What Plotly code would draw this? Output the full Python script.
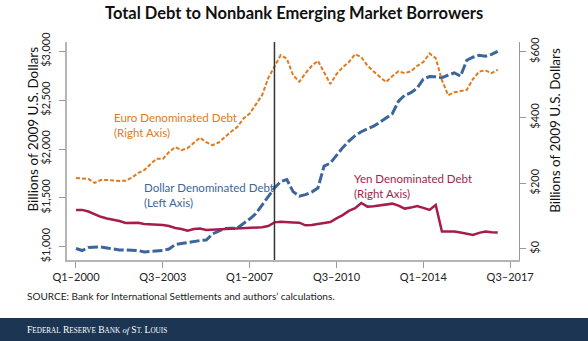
import plotly.graph_objects as go

# Quarterly data, Q1-2000 .. Q1-2017 (69 quarters)
start_year = 2000
dollar = [982, 961, 992, 997, 997, 987, 976, 966, 966, 966, 961, 946, 951, 951, 961, 976,
          1022, 1033, 1043, 1058, 1063, 1068, 1130, 1160, 1186, 1188, 1191, 1237, 1283, 1339, 1426, 1518,
          1600, 1666, 1687, 1564, 1518, 1533, 1559, 1600, 1825, 1855, 1937, 2014, 2080, 2136, 2177, 2208,
          2234, 2274, 2315, 2361, 2489, 2550, 2576, 2622, 2714, 2741, 2739, 2729, 2755, 2780, 2745, 2908,
          2939, 2959, 2949, 2969, 3000]
euro = [216, 214, 213, 201, 210, 210, 208, 207, 208, 217, 231, 240, 258, 275, 274, 295,
        310, 301, 307, 322, 339, 325, 316, 324, 341, 357, 371, 397, 412, 441, 468, 520,
        557, 590, 579, 529, 509, 535, 557, 573, 538, 502, 532, 553, 569, 593, 584, 558,
        540, 523, 508, 526, 541, 535, 541, 557, 569, 595, 581, 514, 468, 477, 480, 484,
        517, 540, 544, 535, 546]
yen = [119, 119, 114, 106, 98, 93, 90, 85, 79, 79, 80, 76, 75, 75, 73, 70,
       64, 61, 56, 61, 62, 58, 59, 59, 60, 61, 62, 63, 64, 65, 66, 70,
       81, 83, 81, 81, 80, 72, 73, 76, 79, 82, 93, 103, 116, 124, 140, 129,
       130, 132, 135, 138, 132, 123, 126, 131, 125, 119, 134, 53, 53, 53, 50, 47,
       43, 49, 53, 51, 50]

x_tick_vals = [2000, 2003.5, 2007, 2010.5, 2014, 2017.5]
x_tick_text = ["Q1\u20132000", "Q3\u20132003", "Q1\u20132007", "Q3\u20132010", "Q1\u20132014", "Q3\u20132017"]
left_ticks = [1000, 1500, 2000, 2500, 3000]
left_tick_text = ["$1,000", "$1,500", "$2,000", "$2,500", "$3,000"]
right_ticks = [0, 200, 400, 600]
right_tick_text = ["$0", "$200", "$400", "$600"]
crisis_marker = 2008.0

x = [start_year + i / 4 for i in range(len(dollar))]

ORANGE = "#E07A1C"
BLUE = "#3B669B"
CRIMSON = "#A61C4B"
FONT = "Lato, 'Open Sans', sans-serif"

fig = go.Figure()
fig.add_trace(go.Scatter(x=x, y=euro, yaxis="y2", mode="lines",
                         line=dict(color=ORANGE, width=2, dash="4px,2px")))
fig.add_trace(go.Scatter(x=x, y=yen, yaxis="y2", mode="lines",
                         line=dict(color=CRIMSON, width=2.5)))
fig.add_trace(go.Scatter(x=x, y=dollar, yaxis="y", mode="lines",
                         line=dict(color=BLUE, width=3, dash="10px,3px")))

W, H = 588, 341
ml, mr, mt, mb = 66.7, 68.7, 41.7, 81
pw = W - ml - mr
ph = H - mt - mb

def px(xp):
    return (xp - ml) / pw

def py(yp):
    return (H - mb - yp) / ph

fig.update_layout(
    width=W, height=H,
    margin=dict(l=ml, r=mr, t=mt, b=mb, pad=0),
    paper_bgcolor="white", plot_bgcolor="white",
    showlegend=False,
    font=dict(family=FONT, size=11, color="#333"),
    xaxis=dict(range=[1999.638, 2017.857], tickvals=x_tick_vals, ticktext=x_tick_text,
               showgrid=False, zeroline=False, showline=True, linecolor="#b5b5b5", linewidth=1.5,
               ticks="outside", ticklen=6, tickcolor="#999", tickwidth=1,
               tickfont=dict(size=11, color="#222")),
    yaxis=dict(range=[864, 3095], tickvals=left_ticks, ticktext=left_tick_text,
               tickangle=-90, showgrid=False, zeroline=False, showline=True,
               linecolor="#b5b5b5", linewidth=1.5, ticks="outside", ticklen=6,
               tickcolor="#999", tickwidth=1, tickfont=dict(size=11, color="#222"),
               ticklabelstandoff=5),
    yaxis2=dict(range=[-33.5, 630], tickvals=right_ticks, ticktext=right_tick_text, overlaying="y",
                side="right", tickangle=-90, showgrid=False, zeroline=False, showline=True,
                linecolor="#999", linewidth=1, ticks="outside", ticklen=6, tickcolor="#999",
                tickwidth=1, tickfont=dict(size=11, color="#222")),
)

# Crisis vertical line
fig.add_shape(type="line", xref="x", yref="paper", x0=crisis_marker, x1=crisis_marker,
              y0=0, y1=1, line=dict(color="#333", width=1.5))

# Footer band
fig.add_shape(type="rect", xref="paper", yref="paper", x0=px(-5), x1=px(W + 5),
              y0=py(H + 5), y1=py(318), fillcolor="#1B3553", line=dict(width=0), layer="above")

ann = []
ann.append(dict(text="<b>Total Debt to Nonbank Emerging Market Borrowers</b>", x=px(294), y=py(13),
                xref="paper", yref="paper", showarrow=False, xanchor="center", yanchor="middle",
                font=dict(size=16.5, color="#111", family=FONT)))
ann.append(dict(text="Billions of 2009 U.S. Dollars", x=px(33), y=py(129), textangle=-90,
                xref="paper", yref="paper", showarrow=False, xanchor="center", yanchor="middle",
                font=dict(size=13.5, color="#111")))
ann.append(dict(text="Billions of 2009 U.S. Dollars", x=px(556), y=py(130), textangle=-90,
                xref="paper", yref="paper", showarrow=False, xanchor="center", yanchor="middle",
                font=dict(size=13.5, color="#111")))
ann.append(dict(text="Euro Denominated Debt<br>(Right Axis)", x=px(112), y=py(125), align="left",
                xref="paper", yref="paper", showarrow=False, xanchor="left", yanchor="middle",
                font=dict(size=11.5, color=ORANGE)))
ann.append(dict(text="Dollar Denominated Debt<br>(Left Axis)", x=px(142), y=py(195), align="left",
                xref="paper", yref="paper", showarrow=False, xanchor="left", yanchor="middle",
                font=dict(size=11.5, color=BLUE)))
ann.append(dict(text="Yen Denominated Debt<br>(Right Axis)", x=px(352), y=py(185.5), align="left",
                xref="paper", yref="paper", showarrow=False, xanchor="left", yanchor="middle",
                font=dict(size=11.5, color=CRIMSON)))
ann.append(dict(text="SOURCE: Bank for International Settlements and authors\u2019 calculations.",
                x=px(25), y=py(296), xref="paper", yref="paper", showarrow=False,
                xanchor="left", yanchor="middle", font=dict(size=10, color="#222")))

def sc(word, big=9.6, small=7.2):
    return f"<span style='font-size:{big}px'>{word[0]}</span><span style='font-size:{small}px'>{word[1:]}</span>"

footer = (sc("FEDERAL") + " " + sc("RESERVE") + " " + sc("BANK") + " "
          + "<i><span style='font-size:8.5px'>of</span></i> " + sc("ST.") + " " + sc("LOUIS"))
ann.append(dict(text=footer, x=px(25), y=py(329.5), xref="paper", yref="paper", showarrow=False,
                xanchor="left", yanchor="middle",
                font=dict(size=9, color="white", family="'Liberation Serif', 'DejaVu Serif', serif")))

fig.update_layout(annotations=ann)
fig.write_html("out.html")
